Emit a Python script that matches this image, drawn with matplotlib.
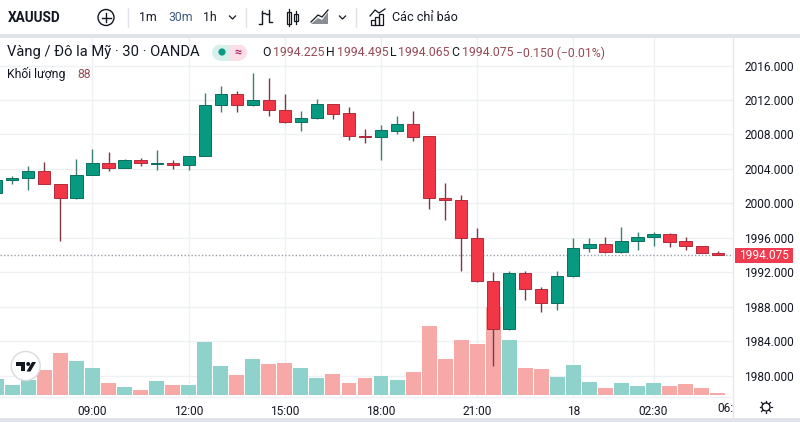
import matplotlib
matplotlib.use("Agg")
import matplotlib.pyplot as plt
from matplotlib.patches import Circle, Rectangle, Polygon, Wedge

FONT = "Roboto"
plt.rcParams["font.family"] = [FONT, "DejaVu Sans"]

opens = [2001.2, 2002.75, 2002.95, 2003.75, 2002.25, 2000.65, 2003.3, 2004.65, 2004.15, 2005.0,
         2004.6, 2004.65, 2004.45, 2005.45, 2011.4, 2012.75, 2011.4, 2012.0, 2010.85, 2009.45,
         2009.95, 2011.5, 2010.45, 2007.85, 2007.7, 2008.45, 2009.2, 2007.8, 2000.65, 2000.45,
         1996.0, 1990.95, 1985.45, 1991.95, 1990.05, 1988.45, 1991.6, 1994.8, 1995.3, 1994.35,
         1995.6, 1996.15, 1996.4, 1995.6, 1995.1, 1994.225]
closes = [2002.75, 2003.0, 2003.75, 2002.25, 2000.65, 2003.3, 2004.65, 2004.15, 2005.0, 2004.65,
          2004.7, 2004.45, 2005.45, 2011.4, 2012.75, 2011.4, 2012.05, 2010.85, 2009.45, 2009.95,
          2011.5, 2010.4, 2007.85, 2007.7, 2008.5, 2009.2, 2007.75, 2000.6, 2000.45, 1996.0,
          1990.95, 1985.45, 1991.95, 1990.05, 1988.45, 1991.6, 1994.85, 1995.3, 1994.35, 1995.6,
          1996.15, 1996.4, 1995.5, 1995.1, 1994.25, 1994.075]
highs = [2002.8, 2003.2, 2004.3, 2004.85, 2002.25, 2005.2, 2006.35, 2006.0, 2005.15, 2005.25,
         2006.2, 2005.0, 2005.45, 2012.85, 2013.6, 2013.1, 2015.1, 2014.55, 2012.75, 2010.75,
         2012.15, 2011.5, 2011.2, 2008.65, 2009.1, 2010.2, 2010.75, 2007.8, 2002.4, 2001.0,
         1997.2, 1992.05, 1992.15, 1992.2, 1990.3, 1992.2, 1996.0, 1996.0, 1996.1, 1997.25,
         1996.7, 1996.7, 1996.6, 1996.05, 1995.1, 1994.495]
lows = [2001.1, 2002.2, 2001.55, 2002.2, 1995.6, 2000.5, 2003.3, 2003.8, 2004.1, 2004.35,
        2003.9, 2004.05, 2003.9, 2005.45, 2010.6, 2010.6, 2011.3, 2010.2, 2009.3, 2008.4,
        2009.8, 2009.85, 2007.35, 2007.05, 2005.0, 2008.0, 2007.3, 1999.3, 1998.1, 1992.15,
        1990.9, 1981.15, 1985.3, 1988.85, 1987.45, 1987.65, 1991.45, 1994.35, 1994.3, 1994.3,
        1994.65, 1995.1, 1994.9, 1994.65, 1994.2, 1994.065]
volumes = [612, 372, 588, 988, 1680, 1332, 1068, 452, 308, 188, 532, 388, 388, 2108, 1148, 788,
           1412, 1212, 1252, 1068, 668, 812, 452, 668, 732, 572, 892, 2732, 1440, 2172, 2028, 3520,
           2172, 1052, 1012, 692, 1172, 492, 252, 452, 360, 452, 332, 412, 252, 88]

price_ticks = [1980, 1984, 1988, 1992, 1996, 2000, 2004, 2008, 2012, 2016]
time_tick_pos = [6, 12, 18, 24, 30, 36, 41]
time_tick_labels = ["09:00", "12:00", "15:00", "18:00", "21:00", "18", "02:30"]
last_price = 1994.075

W, H = 800, 422
UP, DOWN = "#089981", "#f23645"
UP_EDGE, DOWN_EDGE = "#0b6f5f", "#b02c3c"
UP_WICK, DOWN_WICK = "#3f7f74", "#7a3a44"
UP_VOL, DOWN_VOL = "#8fd1cb", "#f6a9a7"
GRID = "#eef0f3"
TEXT = "#131722"

fig = plt.figure(figsize=(W / 100, H / 100), dpi=100, facecolor="white")
L, R, T, B = 0, 733, 38, 397
rect = [L / W, 1 - B / H, (R - L) / W, (B - T) / H]

PX_BAR = 16.03
X0 = -3.7
PX_UNIT = 8.62
xlim = ((L - X0) / PX_BAR, (R - X0) / PX_BAR)
ylim = (2012 - (B - 100) / PX_UNIT, 2012 + (100 - T) / PX_UNIT)
VOL_PX = 40.0
BASE = 394.7

hgrid_ax = fig.add_axes(rect, zorder=0.5)
hgrid_ax.set_xlim(xlim)
hgrid_ax.set_ylim(ylim)
hgrid_ax.set_xticks([])
hgrid_ax.set_yticks(price_ticks)
hgrid_ax.set_yticklabels([])
hgrid_ax.tick_params(length=0)
hgrid_ax.yaxis.grid(True, color=GRID, lw=1)
for s in hgrid_ax.spines.values():
    s.set_visible(False)

vax = fig.add_axes(rect, zorder=1)
vax.patch.set_alpha(0)
vax.set_xlim(xlim)
vax.set_ylim(-(B - BASE) * VOL_PX, (BASE - T) * VOL_PX)
vax.set_xticks(time_tick_pos)
vax.set_xticklabels(time_tick_labels, fontsize=8.6, color=TEXT)
vax.tick_params(axis="x", length=0, pad=6)
vax.set_yticks([])
vax.xaxis.grid(True, color=GRID, lw=1)
vax.set_axisbelow(True)
for s in vax.spines.values():
    s.set_visible(False)

ax = fig.add_axes(rect, zorder=2)
ax.patch.set_alpha(0)
ax.set_xlim(xlim)
ax.set_ylim(ylim)
ax.set_xticks([])
ax.yaxis.tick_right()
ax.set_yticks(price_ticks)
ax.set_yticklabels([f"{p}.000" for p in price_ticks], fontsize=8.6, color=TEXT)
ax.tick_params(axis="y", length=0, pad=8)
for s in ax.spines.values():
    s.set_visible(False)

idx = list(range(len(closes)))
is_up = [c >= o for o, c in zip(opens, closes)]

vax.bar(idx, volumes, width=0.93, color=[UP_VOL if u else DOWN_VOL for u in is_up], linewidth=0)

ax.vlines(idx, lows, highs, colors=[UP_WICK if u else DOWN_WICK for u in is_up], lw=1, zorder=2)
ax.bar(idx, [abs(c - o) for o, c in zip(opens, closes)],
       bottom=[min(o, c) for o, c in zip(opens, closes)], width=0.76,
       color=[UP if u else DOWN for u in is_up],
       edgecolor=[UP_EDGE if u else DOWN_EDGE for u in is_up], linewidth=0.7, zorder=3)
ax.axhline(last_price, color="#9a9ea8", lw=1, ls=(0, (1, 1.5)), zorder=1)

# Overlay in pixel coordinates: chrome, legend, icons
ov = fig.add_axes([0, 0, 1, 1], zorder=5)
ov.set_xlim(0, W)
ov.set_ylim(H, 0)
ov.axis("off")
ov.patch.set_alpha(0)

ov.add_patch(Rectangle((0, 34), W, 4, color="#e0e3e8", lw=0))
ov.add_patch(Rectangle((0, 418), W, 4, color="#e0e3e8", lw=0))
ov.plot([733, 733], [38, 418], color="#e6e8ec", lw=1)
ov.plot([0, 733], [397, 397], color="#f0f1f4", lw=1)

ov.text(8, 17.5, "XAUUSD", fontsize=9.8, fontweight="bold", color=TEXT, va="center")
ov.add_patch(Circle((106, 17.5), 8, fill=False, ec=TEXT, lw=1))
ov.plot([101.5, 110.5], [17.5, 17.5], color=TEXT, lw=1)
ov.plot([106, 106], [13, 22], color=TEXT, lw=1)
for xs in (128, 246, 356):
    ov.plot([xs, xs], [8, 27], color="#e0e3e8", lw=1)
ov.text(139, 17.5, "1m", fontsize=8.8, color=TEXT, va="center")
ov.text(168, 17.5, "30m", fontsize=8.8, color="#3d5a80", va="center")
ov.text(203, 17.5, "1h", fontsize=8.8, color=TEXT, va="center")
for cx in (232.5, 342.5):
    ov.plot([cx - 3, cx, cx + 3], [16, 19, 16], color=TEXT, lw=0.9)
# bars icon
ov.plot([262, 262, 259], [11, 24, 24], color=TEXT, lw=1)
ov.plot([262, 265], [13, 13], color=TEXT, lw=1)
ov.plot([269, 269, 272], [10, 22, 22], color=TEXT, lw=1)
ov.plot([269, 266], [14, 14], color=TEXT, lw=1)
# candle icon
ov.add_patch(Rectangle((287, 12), 3.5, 12, fill=False, ec=TEXT, lw=0.9))
ov.plot([288.7, 288.7], [9, 26], color=TEXT, lw=0.9)
ov.add_patch(Rectangle((294, 14), 3.5, 7, fill=False, ec=TEXT, lw=0.9))
ov.plot([295.7, 295.7], [11, 24], color=TEXT, lw=0.9)
# area icon
ov.add_patch(Polygon([(311, 24), (318, 18), (322, 20), (328, 12), (328, 24)], color="#8a8d94", lw=0))
ov.plot([311, 318, 322, 328], [22, 15, 17, 10], color=TEXT, lw=0.9)
# indicators icon
ov.add_patch(Rectangle((371, 20), 4, 5, fill=False, ec=TEXT, lw=0.9))
ov.add_patch(Rectangle((375, 17), 4, 8, fill=False, ec=TEXT, lw=0.9))
ov.add_patch(Rectangle((379, 14), 4, 11, fill=False, ec=TEXT, lw=0.9))
ov.plot([370, 375, 379, 385], [16, 10, 13, 9], color=TEXT, lw=0.9)
ov.text(392, 17.5, "Các chỉ báo", fontsize=9.1, color=TEXT, va="center")

ov.text(7, 52, "Vàng / Đô la Mỹ · 30 · OANDA", fontsize=10.6, color=TEXT, va="center")
# status pill
ov.add_patch(Wedge((220, 52.5), 8, 90, 270, color="#d8f0ec", lw=0))
ov.add_patch(Rectangle((220, 44.5), 10, 16, color="#d8f0ec", lw=0))
ov.add_patch(Rectangle((230, 44.5), 9, 16, color="#fbdfe8", lw=0))
ov.add_patch(Wedge((239, 52.5), 8, -90, 90, color="#fbdfe8", lw=0))
ov.add_patch(Circle((222, 52), 3.6, color="#0b9a82", lw=0))
ov.text(238, 52, "≈", fontsize=9, color="#b0306a", ha="center", va="center", fontweight="bold")
OHLC = "#964a57"
for x, lab, val in [(262, "O", "1994.225"), (326, "H", "1994.495"), (390, "L", "1994.065"), (451, "C", "1994.075")]:
    ov.text(x, 53, lab, fontsize=8.8, color=TEXT, va="center")
    ov.text(x + 11 if lab != "L" else x + 8, 53, val, fontsize=8.8, color=OHLC, va="center")
ov.text(516, 53, "−0.150 (−0.01%)", fontsize=8.8, color=OHLC, va="center")
ov.text(7, 74, "Khối lượng", fontsize=8.8, color=TEXT, va="center")
ov.text(77, 74, "88", fontsize=8.8, color=OHLC, va="center")

# last price tag
ov.add_patch(Rectangle((735, 248), 58, 14.5, color="#ef3b4d", lw=0))
ov.text(764.5, 255.4, f"{last_price:.3f}", fontsize=8.6, color="white", ha="center", va="center")

ov.text(733, 408, "06:", fontsize=8.6, color=TEXT, ha="right", va="center")

# TradingView badge
ov.add_patch(Circle((25.7, 366), 14.5, fc="white", ec="#d9dbe0", lw=1))
ov.add_patch(Polygon([(16, 362), (25, 362), (25, 371), (21, 371), (21, 366), (16, 366)], color="#131722", lw=0))
ov.add_patch(Circle((28.2, 364), 2, color="#131722", lw=0))
ov.add_patch(Polygon([(32, 362), (36, 362), (30.5, 371.5), (26.5, 371.5)], color="#131722", lw=0))

# settings icon
ov.add_patch(Circle((766, 407), 4, fill=False, ec=TEXT, lw=1))
for dx, dy in [(0, -6.3), (0, 6.3), (-6.3, 0), (6.3, 0), (-4.5, -4.5), (4.5, -4.5), (-4.5, 4.5), (4.5, 4.5)]:
    ov.plot([766 + dx * 0.72, 766 + dx], [407 + dy * 0.72, 407 + dy], color=TEXT, lw=0.9)

fig.savefig("out.png", dpi=100)
